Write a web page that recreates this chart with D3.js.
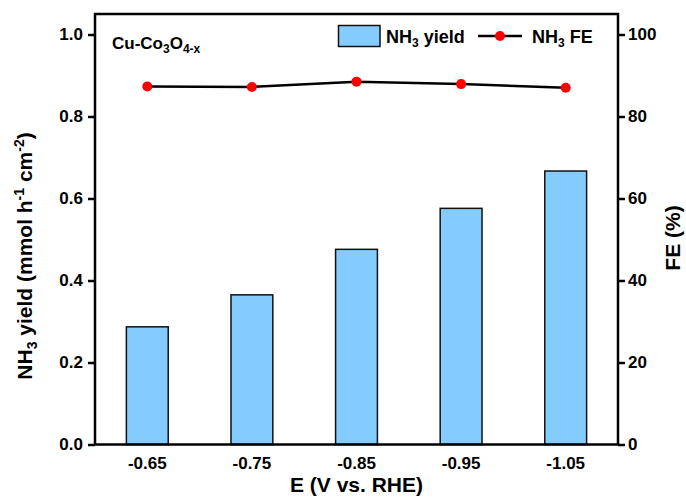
<!DOCTYPE html>
<html><head><meta charset="utf-8">
<script src="https://cdn.jsdelivr.net/npm/d3@7"></script>
<style>body{margin:0;background:#fff}svg{display:block}text{font-family:"Liberation Sans",Arial,sans-serif;font-weight:bold}</style>
</head><body>
<script>
const categories = ["-0.65","-0.75","-0.85","-0.95","-1.05"];
const yieldValues = [0.287,0.365,0.476,0.576,0.667];
const feValues = [87.3,87.2,88.5,87.9,87.0];
const leftTicks = [0.0,0.2,0.4,0.6,0.8,1.0];
const rightTicks = [0,20,40,60,80,100];

const W=686,H=499;
const m={l:95,r:618,t:14,b:444.5};
const svg=d3.select("body").append("svg").attr("width",W).attr("height",H);

const x=d3.scaleBand().domain(categories).range([m.l,m.r]).paddingInner(0.6).paddingOuter(0.3);
const y=d3.scaleLinear().domain([0,1.05]).range([m.b,m.t]);
const y2=d3.scaleLinear().domain([0,105]).range([m.b,m.t]);

// bars
svg.selectAll("rect.bar").data(yieldValues).enter().append("rect")
  .attr("x",(d,i)=>x(categories[i])).attr("width",x.bandwidth())
  .attr("y",d=>y(d)).attr("height",d=>y(0)-y(d))
  .attr("fill","#84CCFD").attr("stroke","#111").attr("stroke-width",1.5);

// line
const line=d3.line().x((d,i)=>x(categories[i])+x.bandwidth()/2).y(d=>y2(d));
svg.append("path").datum(feValues).attr("d",line).attr("fill","none").attr("stroke","#000").attr("stroke-width",2.5);
svg.selectAll("circle.pt").data(feValues).enter().append("circle")
  .attr("cx",(d,i)=>x(categories[i])+x.bandwidth()/2).attr("cy",d=>y2(d)).attr("r",5).attr("fill","#f00");

// frame
svg.append("rect").attr("x",m.l).attr("y",m.t).attr("width",m.r-m.l).attr("height",m.b-m.t)
  .attr("fill","none").attr("stroke","#000").attr("stroke-width",2.5);

// axes
const ax=svg.append("g").attr("transform",`translate(${m.l},0)`)
  .call(d3.axisLeft(y).tickValues(leftTicks).tickFormat(d3.format(".1f")).tickSize(7).tickPadding(5));
const ax2=svg.append("g").attr("transform",`translate(${m.r},0)`)
  .call(d3.axisRight(y2).tickValues(rightTicks).tickSize(7).tickPadding(3));
const ax3=svg.append("g").attr("transform",`translate(0,${m.b})`)
  .call(d3.axisBottom(x).tickSize(0).tickPadding(12));
[ax,ax2,ax3].forEach(g=>{
  g.select(".domain").remove();
  g.selectAll(".tick line").attr("stroke","#000").attr("stroke-width",2.5);
  g.selectAll("text").attr("font-size",17).attr("fill","#000").style("font-family","Liberation Sans, Arial").style("font-weight","bold");
});

// axis titles
svg.append("text").attr("x",(m.l+m.r)/2).attr("y",492).attr("text-anchor","middle").attr("font-size",21).text("E (V vs. RHE)");
const yl=svg.append("text").attr("transform","translate(32,256) rotate(-90)").attr("text-anchor","middle").attr("font-size",21);
yl.append("tspan").text("NH");
yl.append("tspan").attr("font-size",14).attr("dy",5).text("3");
yl.append("tspan").attr("dy",-5).text(" yield (mmol h");
yl.append("tspan").attr("font-size",14).attr("dy",-8).text("-1");
yl.append("tspan").attr("dy",8).text(" cm");
yl.append("tspan").attr("font-size",14).attr("dy",-8).text("-2");
yl.append("tspan").attr("dy",8).text(")");
svg.append("text").attr("transform","translate(680,238) rotate(-90)").attr("text-anchor","middle").attr("font-size",21).text("FE (%)");

// annotation
const an=svg.append("text").attr("x",112).attr("y",49).attr("font-size",17);
an.append("tspan").text("Cu-Co");
an.append("tspan").attr("font-size",12).attr("dy",4).text("3");
an.append("tspan").attr("dy",-4).text("O");
an.append("tspan").attr("font-size",12).attr("dy",4).text("4-x");

// legend
svg.append("rect").attr("x",338.5).attr("y",25.5).attr("width",41.5).attr("height",21).attr("fill","#84CCFD").attr("stroke","#111").attr("stroke-width",1.5);
const l1=svg.append("text").attr("x",386).attr("y",43).attr("font-size",18);
l1.append("tspan").text("NH");
l1.append("tspan").attr("font-size",12).attr("dy",4).text("3");
l1.append("tspan").attr("dy",-4).text(" yield");
svg.append("line").attr("x1",478).attr("x2",522).attr("y1",36).attr("y2",36).attr("stroke","#000").attr("stroke-width",2.5);
svg.append("circle").attr("cx",500).attr("cy",36).attr("r",5).attr("fill","#f00");
const l2=svg.append("text").attr("x",532).attr("y",43).attr("font-size",18);
l2.append("tspan").text("NH");
l2.append("tspan").attr("font-size",12).attr("dy",4).text("3");
l2.append("tspan").attr("dy",-4).text(" FE");
</script>
</body></html>
